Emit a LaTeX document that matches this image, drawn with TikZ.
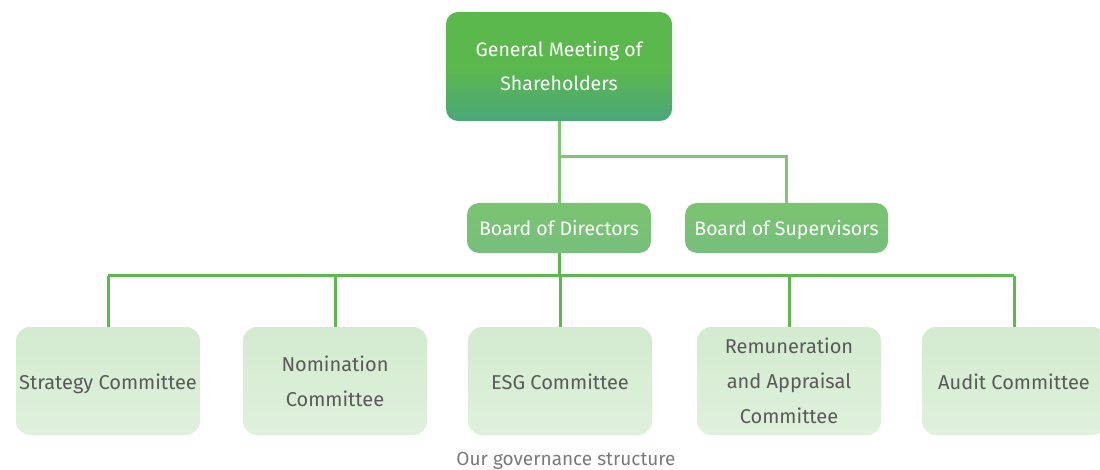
\documentclass[tikz,border=0pt]{standalone}
\usepackage{fontspec}
\setmainfont{Fira Sans}
\usetikzlibrary{positioning}

\definecolor{gmtop}{HTML}{5BB84C}
\definecolor{gmbot}{HTML}{4CA77A}
\definecolor{boardfill}{HTML}{7AC470}
\definecolor{boardbot}{HTML}{77BF7D}
\definecolor{comtop}{HTML}{D3EBCF}
\definecolor{combot}{HTML}{DFF1DC}
\definecolor{upline}{HTML}{7CC674}
\definecolor{busline}{HTML}{5CB94E}
\definecolor{comtext}{HTML}{5A5A5A}
\definecolor{captext}{HTML}{7A7A7A}

\tikzset{
  gmbox/.style={rounded corners=12pt, minimum width=226pt, minimum height=109pt,
    top color=gmtop, bottom color=gmbot, middle color=gmtop, text=white,
    align=center, font=\fontsize{19.5}{34}\selectfont},
  boardbox/.style={rounded corners=12pt, minimum height=50pt, inner xsep=0pt,
    text height=16pt, text depth=0pt,
    top color=boardfill, bottom color=boardbot, text=white,
    font=\fontsize{19.5}{34}\selectfont},
  combox/.style={rounded corners=14pt, minimum width=184pt, minimum height=108pt,
    inner xsep=0pt, top color=comtop, bottom color=combot, text=comtext,
    align=center, font=\fontsize{20}{35}\selectfont},
  oneline/.style={text height=16pt, text depth=0pt},
  uplink/.style={draw=upline, line width=3pt},
  buslink/.style={draw=busline, line width=3pt}
}

\begin{document}
\begin{tikzpicture}[x=1pt, y=-1pt]
  \useasboundingbox (0,0) rectangle (1100,470);
  \fill[white] (0,0) rectangle (1100,470);

  % top level
  \node[gmbox] (gm) at (559,66.5) {General Meeting of\\Shareholders};

  % boards
  \node[boardbox, minimum width=184pt] (bod) at (559,228) {Board of Directors};
  \node[boardbox, minimum width=203pt] (bos) at (786.5,228) {Board of Supervisors};

  % committees
  \node[combox, oneline] (strat) at (108,381) {Strategy Committee};
  \node[combox] (nom) at (335,381) {Nomination\\Committee};
  \node[combox, oneline] (esg) at (560,381) {ESG Committee};
  \node[combox] (rem) at (789,381) {Remuneration\\and Appraisal\\Committee};
  \node[combox, oneline] (aud) at (1014,381) {Audit Committee};

  \coordinate (fork) at (559,157);
  \coordinate (bus) at (559,276);

  \draw[uplink] (gm.south) -- (bod.north);
  \draw[uplink] (fork) -| (bos.north);

  \draw[buslink] (bod.south) -- (bus);
  \draw[buslink] (strat.north |- bus) -- (aud.north |- bus);
  \foreach \c in {strat,nom,esg,rem,aud}
    \draw[buslink] (\c.north |- bus) -- (\c.north);

  \node[text=captext, font=\fontsize{19}{22}\selectfont] (cap) at (566,461) {Our governance structure};
\end{tikzpicture}
\end{document}
